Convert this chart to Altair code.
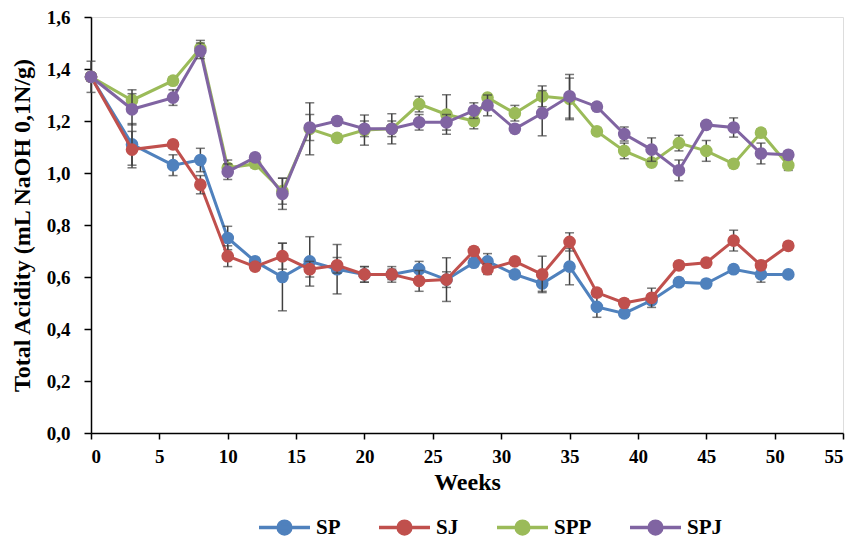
import altair as alt
import pandas as pd

weeks = [0, 3, 6, 8, 10, 12, 14, 16, 18, 20, 22, 24, 26, 28, 29, 31, 33, 35, 37, 39, 41, 43, 45, 47, 49, 51]
series_names = ["SP", "SJ", "SPP", "SPJ"]
colors = ["#4F81BD", "#C0504D", "#9BBB59", "#8064A2"]

sp = [1.37, 1.11, 1.03, 1.05, 0.75, 0.66, 0.60, 0.66, 0.63, 0.61, 0.61, 0.63, 0.59, 0.655, 0.66, 0.61, 0.575, 0.64, 0.485, 0.46, 0.51, 0.58, 0.575, 0.63, 0.61, 0.61]
sj = [1.37, 1.09, 1.11, 0.955, 0.68, 0.64, 0.68, 0.63, 0.645, 0.61, 0.61, 0.585, 0.59, 0.70, 0.63, 0.66, 0.61, 0.735, 0.54, 0.50, 0.52, 0.645, 0.655, 0.74, 0.645, 0.72]
spp = [1.37, 1.28, 1.355, 1.48, 1.02, 1.035, 0.93, 1.17, 1.135, 1.165, 1.17, 1.265, 1.225, 1.20, 1.29, 1.23, 1.295, 1.285, 1.16, 1.085, 1.04, 1.115, 1.085, 1.035, 1.155, 1.03]
spj = [1.37, 1.245, 1.29, 1.47, 1.005, 1.06, 0.92, 1.175, 1.20, 1.17, 1.17, 1.195, 1.195, 1.24, 1.26, 1.17, 1.23, 1.295, 1.255, 1.15, 1.09, 1.01, 1.185, 1.175, 1.075, 1.07]

sp_err = [0.015, 0.08, 0.04, 0.045, 0.045, 0.015, 0.13, 0.095, 0.095, 0.03, 0.03, 0.03, 0.03, 0.015, 0.03, 0.015, 0.03, 0.07, 0.04, 0.015, 0.015, 0.015, 0.015, 0.015, 0.03, 0.015]
sj_err = [0.015, 0.07, 0.015, 0.035, 0.04, 0.015, 0.05, 0.03, 0.03, 0.03, 0.02, 0.04, 0.084, 0.015, 0.02, 0.015, 0.07, 0.035, 0.015, 0.015, 0.037, 0.015, 0.015, 0.04, 0.015, 0.015]
spp_err = [0.015, 0.04, 0.015, 0.03, 0.03, 0.015, 0.05, 0.10, 0.015, 0.058, 0.058, 0.03, 0.076, 0.03, 0.015, 0.03, 0.04, 0.08, 0.015, 0.03, 0.015, 0.03, 0.04, 0.015, 0.015, 0.02]
spj_err = [0.06, 0.06, 0.03, 0.03, 0.03, 0.015, 0.06, 0.05, 0.015, 0.03, 0.03, 0.03, 0.03, 0.03, 0.04, 0.015, 0.087, 0.084, 0.015, 0.027, 0.045, 0.04, 0.015, 0.037, 0.04, 0.015]

rows = []
for name, vals, errs in zip(series_names, [sp, sj, spp, spj], [sp_err, sj_err, spp_err, spj_err]):
    for w, v, e in zip(weeks, vals, errs):
        rows.append({"Week": w, "Value": v, "lo": v - e, "hi": v + e, "Series": name})
df = pd.DataFrame(rows)

FONT = "Liberation Serif"
fmt = "replace(format(datum.value, '.1f'), '.', ',')"

x_enc = alt.X("Week:Q", scale=alt.Scale(domain=[0, 55], nice=False),
              axis=alt.Axis(values=list(range(0, 56, 5)), title="Weeks", grid=False,
                            domainColor="black", domainWidth=1.5, tickColor="black",
                            tickWidth=1.5, tickSize=6, labelFont=FONT, labelFontSize=19,
                            labelFontWeight="bold", labelColor="black", titleFont=FONT,
                            titleFontSize=24, titleFontWeight="bold", titleColor="black",
                            labelPadding=8, titlePadding=4))
y_enc = alt.Y("Value:Q", scale=alt.Scale(domain=[0, 1.6], nice=False),
              axis=alt.Axis(values=[0, 0.2, 0.4, 0.6, 0.8, 1.0, 1.2, 1.4, 1.6],
                            labelExpr=fmt, title="Total Acidity (mL NaOH 0,1N/g)", grid=False,
                            domainColor="black", domainWidth=1.5, tickColor="black",
                            tickWidth=1.5, tickSize=7, labelFont=FONT, labelFontSize=19,
                            labelFontWeight="bold", labelColor="black", titleFont=FONT,
                            titleFontSize=24, titleFontWeight="bold", titleColor="black",
                            labelPadding=14, titlePadding=12))

color_scale = alt.Scale(domain=series_names, range=colors)
legend_path = "M-1,0L1,0M-0.25,0A0.25,0.25 0 1,0 0.25,0A0.25,0.25 0 1,0 -0.25,0Z"
color_enc = alt.Color("Series:N", scale=color_scale, sort=series_names,
                      legend=alt.Legend(title=None, orient="none", direction="horizontal",
                                        legendX=166, legendY=483,
                                        symbolType=legend_path, symbolSize=2600,
                                        symbolStrokeWidth=3.5, labelFont=FONT, labelFontSize=21,
                                        labelFontWeight="bold", labelColor="black",
                                        columnPadding=31, labelOffset=4))

base = alt.Chart(df)

err_rule = base.mark_rule(color="#404040", strokeWidth=1.5).encode(
    x="Week:Q", y="lo:Q", y2="hi:Q", detail="Series:N")
err_lo = base.mark_tick(color="#404040", size=9, thickness=1.5, orient="horizontal").encode(
    x="Week:Q", y="lo:Q", detail="Series:N")
err_hi = base.mark_tick(color="#404040", size=9, thickness=1.5, orient="horizontal").encode(
    x="Week:Q", y="hi:Q", detail="Series:N")

lines = base.mark_line(strokeWidth=3).encode(x=x_enc, y=y_enc, color=color_enc,
                                             order="Week:Q")
points = base.mark_point(filled=True, size=160, opacity=1).encode(
    x="Week:Q", y="Value:Q", color=color_enc)

layers = []
for name in series_names:
    f = alt.datum.Series == name
    layers.append(lines.transform_filter(f))
    layers.append(err_rule.transform_filter(f))
    layers.append(err_lo.transform_filter(f))
    layers.append(err_hi.transform_filter(f))
    layers.append(points.transform_filter(f))

chart = alt.layer(*layers).properties(
    width=752, height=416,
    autosize=alt.AutoSizeParams(type="none"),
    padding={"left": 83, "top": 9, "right": 3, "bottom": 105},
).configure_view(stroke=None).configure(background="white")

chart.save("out.html", embed_options={"renderer": "svg", "actions": False})
